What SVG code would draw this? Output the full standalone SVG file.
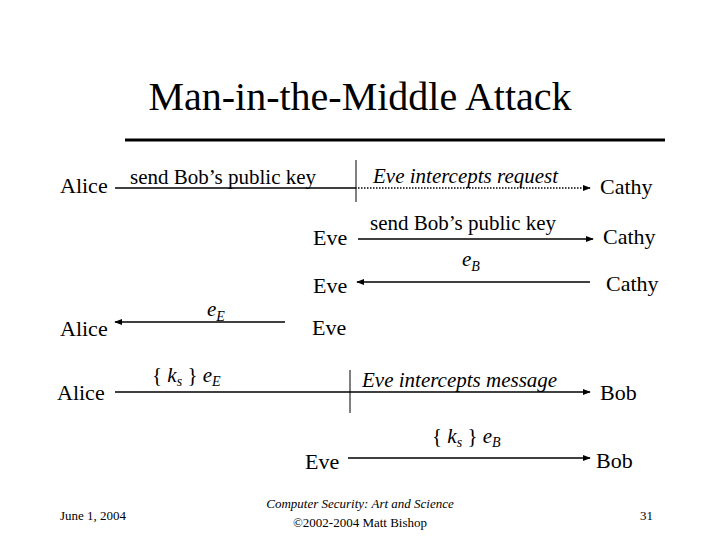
<svg xmlns="http://www.w3.org/2000/svg" width="720" height="540" viewBox="0 0 720 540" font-family="'Times New Roman', 'Liberation Serif', serif">
<style>
text{font-family:'Times New Roman','Liberation Serif',Tinos,serif;fill:#000}
.n{font-size:22px}
.l{font-size:21px}
.i{font-style:italic}
.s{font-size:13px}
line{stroke:#000;stroke-width:1.5}
</style>
<defs><marker id="a" viewBox="0 0 10 10" refX="9" refY="5" markerWidth="8" markerHeight="8" markerUnits="userSpaceOnUse" orient="auto"><path d="M0,1 L10,5 L0,9 Z" fill="#000"/></marker></defs>
<rect width="720" height="540" fill="#fff"/>
<text x="360" y="110" font-size="40" text-anchor="middle">Man-in-the-Middle Attack</text>
<line x1="125" y1="140" x2="665" y2="140" style="stroke-width:3"/>
<g id="n-alice1"><text class="n" x="60" y="193">Alice</text></g>
<g id="n-cathy1"><text class="n" x="600" y="194">Cathy</text></g>
<g id="n-eve2"><text class="n" x="313" y="245">Eve</text></g>
<g id="n-cathy2"><text class="n" x="603" y="244">Cathy</text></g>
<g id="n-eve3"><text class="n" x="313" y="293">Eve</text></g>
<g id="n-cathy3"><text class="n" x="606" y="291">Cathy</text></g>
<g id="n-alice4"><text class="n" x="60" y="336">Alice</text></g>
<g id="n-eve4"><text class="n" x="312" y="335">Eve</text></g>
<g id="n-alice5"><text class="n" x="57" y="400">Alice</text></g>
<g id="n-bob5"><text class="n" x="600" y="400">Bob</text></g>
<g id="n-eve6"><text class="n" x="305" y="469">Eve</text></g>
<g id="n-bob6"><text class="n" x="596" y="468">Bob</text></g>
<g id="connectors">
<line x1="115" y1="188" x2="355" y2="188"/>
<line x1="355" y1="188" x2="590" y2="188" style="stroke-dasharray:1.5 1.5" marker-end="url(#a)"/>
<line x1="356" y1="160" x2="356" y2="202" style="stroke-width:1"/>
<text class="l" x="130" y="184">send Bob’s public key</text>
<text class="l i" x="373" y="183">Eve intercepts request</text>
<line x1="358" y1="239" x2="593" y2="239" marker-end="url(#a)"/>
<text class="l" x="370" y="230">send Bob’s public key</text>
<line x1="590" y1="282" x2="357" y2="282" marker-end="url(#a)"/>
<text class="l i" x="462" y="266">e<tspan font-size="14" dy="5">B</tspan></text>
<line x1="285" y1="322" x2="115" y2="322" marker-end="url(#a)"/>
<text class="l i" x="207" y="316">e<tspan font-size="14" dy="5">E</tspan></text>
<line x1="115" y1="392" x2="590" y2="392" marker-end="url(#a)"/>
<line x1="350" y1="370" x2="350" y2="413" style="stroke-width:1"/>
<text class="l" x="152" y="382">{ <tspan class="i">k</tspan><tspan class="i" font-size="14" dy="4">s</tspan><tspan dy="-4"> } </tspan><tspan class="i">e</tspan><tspan class="i" font-size="14" dy="4">E</tspan></text>
<text class="l i" x="362" y="387">Eve intercepts message</text>
<line x1="348" y1="458" x2="590" y2="458" marker-end="url(#a)"/>
<text class="l" x="432" y="443">{ <tspan class="i">k</tspan><tspan class="i" font-size="14" dy="4">s</tspan><tspan dy="-4"> } </tspan><tspan class="i">e</tspan><tspan class="i" font-size="14" dy="4">B</tspan></text>
</g>
<text class="s" x="60" y="520">June 1, 2004</text>
<text class="s i" x="360" y="508" text-anchor="middle">Computer Security: Art and Science</text>
<text class="s" x="360" y="527" text-anchor="middle">©2002-2004 Matt Bishop</text>
<text class="s" x="640" y="520">31</text>
</svg>
